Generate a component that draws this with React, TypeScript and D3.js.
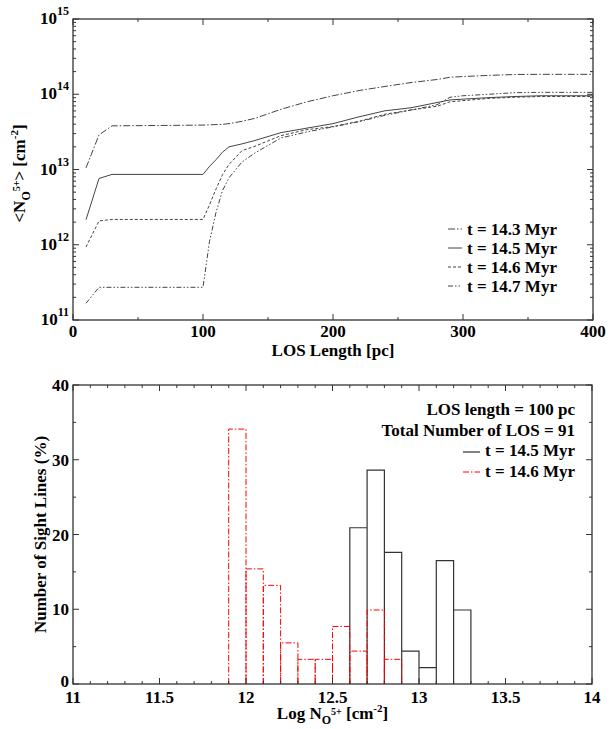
import React from "react";
import * as d3 from "d3";

// ---------- Top panel data ----------
const LOS_PC = [10, 20, 30, 100, 105, 110, 115, 120, 130, 140, 160, 180, 200, 220, 240, 260, 280, 290, 300, 320, 340, 360, 380, 400];
const N_T143 = [1.05e13, 2.88e13, 3.8e13, 3.89e13, 3.92e13, 3.95e13, 3.98e13, 4.07e13, 4.37e13, 4.79e13, 6.31e13, 7.94e13, 9.55e13, 1.12e14, 1.27e14, 1.43e14, 1.57e14, 1.68e14, 1.72e14, 1.78e14, 1.83e14, 1.84e14, 1.84e14, 1.84e14];
const N_T145 = [2.15e12, 7.59e12, 8.61e12, 8.61e12, 1.1e13, 1.35e13, 1.7e13, 2.0e13, 2.19e13, 2.43e13, 3.09e13, 3.55e13, 4.07e13, 5.01e13, 6.03e13, 6.61e13, 7.76e13, 8.41e13, 8.61e13, 9.02e13, 9.33e13, 9.55e13, 9.55e13, 9.55e13];
const N_T146 = [9.33e11, 2.07e12, 2.17e12, 2.17e12, 3.39e12, 5.5e12, 8.51e12, 1.17e13, 1.78e13, 2.04e13, 2.82e13, 3.39e13, 3.72e13, 4.37e13, 5.43e13, 6.17e13, 6.92e13, 7.94e13, 8.22e13, 8.81e13, 9.12e13, 9.33e13, 9.33e13, 9.33e13];
const N_T147 = [1.67e11, 2.72e11, 2.72e11, 2.72e11, 1.1e12, 2.69e12, 5.25e12, 7.76e12, 1.26e13, 1.66e13, 2.63e13, 3.16e13, 3.69e13, 4.32e13, 5.25e13, 6.17e13, 7.24e13, 9.12e13, 9.55e13, 1.0e14, 1.05e14, 1.06e14, 1.06e14, 1.06e14];
const TOP_LABELS = ["t = 14.3 Myr", "t = 14.5 Myr", "t = 14.6 Myr", "t = 14.7 Myr"];
const TOP_X_TICKS = [0, 100, 200, 300, 400];
const TOP_Y_DECADES = [11, 12, 13, 14, 15];

// ---------- Bottom panel data ----------
const BIN_WIDTH = 0.1;
const RED_BIN_LEFT = [11.9, 12.0, 12.1, 12.2, 12.3, 12.4, 12.5, 12.6, 12.7, 12.8];
const RED_PCT = [34.1, 15.4, 13.2, 5.5, 3.3, 3.3, 7.7, 4.4, 9.9, 3.3];
const BLACK_BIN_LEFT = [12.6, 12.7, 12.8, 12.9, 13.0, 13.1, 13.2];
const BLACK_PCT = [20.9, 28.6, 17.6, 4.4, 2.2, 16.5, 9.9];
const BOT_X_TICKS = [11, 11.5, 12, 12.5, 13, 13.5, 14];
const BOT_Y_TICKS = [0, 10, 20, 30, 40];
const BOT_LEGEND = ["LOS length = 100 pc", "Total Number of LOS = 91", "t = 14.5 Myr", "t = 14.6 Myr"];

const FONT = "Liberation Serif";
const AX = "#333";
const LINE = "#444";

export default function App() {
  const L = 73, R = 593;
  const tx = d3.scaleLinear().domain([0, 400]).range([L, R]);
  const ty = d3.scaleLog().domain([1e11, 1e15]).range([320, 19]);
  const bx = d3.scaleLinear().domain([11, 14]).range([L, 592]);
  const by = d3.scaleLinear().domain([0, 40]).range([684, 385]);

  const series = [
    { v: N_T143, dash: "7,2,1.5,2" },
    { v: N_T145, dash: "" },
    { v: N_T146, dash: "3,2" },
    { v: N_T147, dash: "5,2,1.5,2,1.5,2" },
  ];
  const line = (vals: number[]) =>
    d3.line<number>().x((_, i) => tx(LOS_PC[i])).y((d) => ty(d))(vals) || "";

  const topMinorX = [50, 150, 250, 350];
  const topMinorY: number[] = [];
  for (let d = 11; d < 15; d++) for (let k = 2; k <= 9; k++) topMinorY.push(k * Math.pow(10, d));
  const botMinorX: number[] = d3.range(11, 14.001, 0.1).filter((v) => Math.abs(v * 2 - Math.round(v * 2)) > 1e-6);
  const botMinorY = [5, 15, 25, 35];

  const tick = (k: string, x1: number, y1: number, x2: number, y2: number) => (
    <line key={k} x1={x1} y1={y1} x2={x2} y2={y2} stroke={AX} strokeWidth={1} />
  );

  const tT = ty.range()[1], tB = ty.range()[0];
  const bT = by.range()[1], bB = by.range()[0];
  const bR = bx.range()[1];

  const histPath = (lefts: number[], vals: number[]) =>
    lefts.map((x0, i) => {
      const x1 = bx(x0), x2 = bx(x0 + BIN_WIDTH), y = by(vals[i]);
      return `M${x1},${bB}V${y}H${x2}V${bB}`;
    }).join("");

  const ts = { fontFamily: FONT, fontWeight: 700 } as React.CSSProperties;

  return (
    <svg width={611} height={729} style={{ position: "absolute", left: 0, top: 0, background: "#fff" }}>
      {/* ================= TOP PANEL ================= */}
      <g>
        {series.map((s, i) => (
          <path key={i} d={line(s.v)} fill="none" stroke={LINE} strokeWidth={1} strokeDasharray={s.dash} />
        ))}
        <rect x={L} y={tT} width={R - L} height={tB - tT} fill="none" stroke={AX} strokeWidth={1.3} />
        {TOP_X_TICKS.map((v) => (
          <g key={"tx" + v}>
            {tick("a", tx(v), tB, tx(v), tB - 6)}
            {tick("b", tx(v), tT, tx(v), tT + 6)}
          </g>
        ))}
        {topMinorX.map((v) => (
          <g key={"tmx" + v}>
            {tick("a", tx(v), tB, tx(v), tB - 3)}
            {tick("b", tx(v), tT, tx(v), tT + 3)}
          </g>
        ))}
        {TOP_Y_DECADES.map((d) => {
          const y = ty(Math.pow(10, d));
          return (
            <g key={"ty" + d}>
              {tick("a", L, y, L + 6, y)}
              {tick("b", R, y, R - 6, y)}
            </g>
          );
        })}
        {topMinorY.map((v, i) => {
          const y = ty(v);
          return (
            <g key={"tmy" + i}>
              {tick("a", L, y, L + 3, y)}
              {tick("b", R, y, R - 3, y)}
            </g>
          );
        })}
        {TOP_X_TICKS.map((v) => (
          <text key={"txl" + v} style={ts} x={tx(v)} y={337} fontSize={17} textAnchor="middle">{v}</text>
        ))}
        {TOP_Y_DECADES.map((d) => {
          const y = ty(Math.pow(10, d));
          return (
            <text key={"tyl" + d} style={ts} x={69} y={y + 5} fontSize={17} textAnchor="end">
              10<tspan dy={-9} fontSize={12}>{d}</tspan>
            </text>
          );
        })}
        <text style={ts} x={(L + R) / 2} y={356} fontSize={17} textAnchor="middle">LOS Length [pc]</text>
        <text style={ts} transform={`translate(25,${(tT + tB) / 2 + 4}) rotate(-90)`} fontSize={17} textAnchor="middle">
          &lt;N<tspan dy={5} fontSize={12}>O</tspan><tspan dy={-10} fontSize={10}>5+</tspan><tspan dy={5} fontSize={17}>&gt; [cm</tspan><tspan dy={-7} fontSize={11}>-2</tspan><tspan dy={7} fontSize={17}>]</tspan>
        </text>
        {TOP_LABELS.map((t, i) => {
          const y = 229 + i * 19;
          return (
            <g key={"tl" + i}>
              <line x1={448} x2={462} y1={y} y2={y} stroke={LINE} strokeWidth={1} strokeDasharray={series[i].dash} />
              <text style={ts} x={467} y={y + 6} fontSize={17}>{t}</text>
            </g>
          );
        })}
      </g>

      {/* ================= BOTTOM PANEL ================= */}
      <g>
        <path d={histPath(BLACK_BIN_LEFT, BLACK_PCT)} fill="none" stroke={AX} strokeWidth={1.2} />
        <path d={histPath(RED_BIN_LEFT, RED_PCT)} fill="none" stroke="#ff0000" strokeWidth={1} strokeDasharray="6,2,1.5,2" />
        <rect x={L} y={bT} width={bR - L} height={bB - bT} fill="none" stroke={AX} strokeWidth={1.3} />
        {BOT_X_TICKS.map((v) => (
          <g key={"bx" + v}>
            {tick("a", bx(v), bB, bx(v), bB - 6)}
            {tick("b", bx(v), bT, bx(v), bT + 6)}
          </g>
        ))}
        {botMinorX.map((v, i) => (
          <g key={"bmx" + i}>
            {tick("a", bx(v), bB, bx(v), bB - 3)}
            {tick("b", bx(v), bT, bx(v), bT + 3)}
          </g>
        ))}
        {BOT_Y_TICKS.map((v) => (
          <g key={"by" + v}>
            {tick("a", L, by(v), L + 6, by(v))}
            {tick("b", bR, by(v), bR - 6, by(v))}
          </g>
        ))}
        {botMinorY.map((v) => (
          <g key={"bmy" + v}>
            {tick("a", L, by(v), L + 3, by(v))}
            {tick("b", bR, by(v), bR - 3, by(v))}
          </g>
        ))}
        {BOT_X_TICKS.map((v) => (
          <text key={"bxl" + v} style={ts} x={bx(v)} y={703} fontSize={17} textAnchor="middle">{v}</text>
        ))}
        {BOT_Y_TICKS.map((v) => (
          <text key={"byl" + v} style={ts} x={69} y={by(v) + (v === 0 ? 3 : 6)} fontSize={17} textAnchor="end">{v}</text>
        ))}
        <text style={ts} x={(L + bR) / 2} y={719} fontSize={17} textAnchor="middle">
          Log N<tspan dy={5} fontSize={12}>O</tspan><tspan dy={-9} fontSize={10}>5+</tspan><tspan dy={4} fontSize={17}> [cm</tspan><tspan dy={-7} fontSize={11}>-2</tspan><tspan dy={7} fontSize={17}>]</tspan>
        </text>
        <text style={ts} transform={`translate(46,${(bT + bB) / 2}) rotate(-90)`} fontSize={17} textAnchor="middle">Number of Sight Lines (%)</text>
        {BOT_LEGEND.map((t, i) => (
          <text key={"bl" + i} style={ts} x={575} y={415 + i * 20.5} fontSize={17} textAnchor="end">{t}</text>
        ))}
        <line x1={463} x2={480} y1={452} y2={452} stroke={AX} strokeWidth={1.2} />
        <line x1={463} x2={480} y1={472} y2={472} stroke="#ff0000" strokeWidth={1} strokeDasharray="6,2,1.5,2" />
      </g>
    </svg>
  );
}
